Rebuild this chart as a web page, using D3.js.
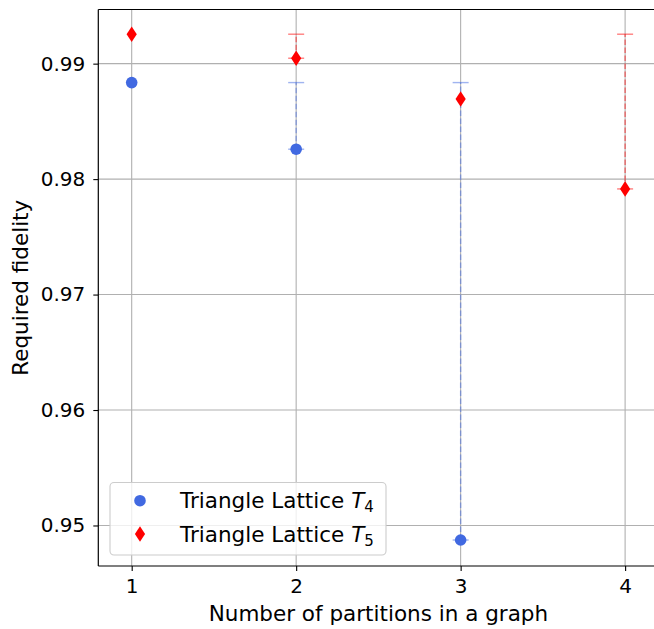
<!DOCTYPE html>
<html>
<head>
<meta charset="utf-8">
<script src="https://cdn.jsdelivr.net/npm/d3@7/dist/d3.min.js"></script>
<style>
html,body{margin:0;padding:0;background:#fff;}
svg{display:block;font-family:"DejaVu Sans",sans-serif;}
</style>
</head>
<body>
<svg id="chart" width="654" height="629"></svg>
<script>
const partitions = [1, 2, 3, 4];
const t4Partitions = [1, 2, 3];
const t4Values = [0.98836, 0.98259, 0.94874];
const t4Upper = [null, 0.98836, 0.98836];
const t5Partitions = [1, 2, 3, 4];
const t5Values = [0.99255, 0.99047, 0.98694, 0.97915];
const t5Upper = [null, 0.99255, null, 0.99255];
const yTicks = [0.95, 0.96, 0.97, 0.98, 0.99];
const seriesNames = ["Triangle Lattice ", "Triangle Lattice "];
const seriesSubs = ["4", "5"];

(function () {
const svg = d3.select("#chart");
const pLeft = 98.3, pRight = 658.5, pTop = 9.5, pBottom = 566;
const x = d3.scaleLinear().domain([0.797, 4.203]).range([pLeft, pRight]);
const y = d3.scaleLinear().domain([0.94649, 0.99469]).range([pBottom, pTop]);

const tickFont = 20, labelFont = 21.5;
// grid
const grid = svg.append("g");
grid.selectAll("line.v").data(partitions).enter().append("line")
  .attr("x1", d => x(d)).attr("x2", d => x(d)).attr("y1", pTop).attr("y2", pBottom)
  .attr("stroke", "#b0b0b0").attr("stroke-width", 1.1);
grid.selectAll("line.h").data(yTicks).enter().append("line")
  .attr("y1", d => y(d)).attr("y2", d => y(d)).attr("x1", pLeft).attr("x2", pRight)
  .attr("stroke", "#b0b0b0").attr("stroke-width", 1.1);

function drawMarker(g, cx, cy, color, shape) {
  if (shape === "circle") {
    g.append("circle").attr("cx", cx).attr("cy", cy).attr("r", 5.8).attr("fill", color);
  } else {
    g.append("path").attr("d", `M${cx},${cy-7.8} L${cx+5.1},${cy} L${cx},${cy+7.8} L${cx-5.1},${cy} Z`)
      .attr("fill", color);
  }
}
function drawSeries(ps, vals, ups, color, shape) {
  const g = svg.append("g");
  ps.forEach((p, i) => {
    if (ups[i] === null) return;
    const cx = x(p);
    g.append("line").attr("x1", cx).attr("x2", cx).attr("y1", y(vals[i])).attr("y2", y(ups[i]))
      .attr("stroke", color).attr("stroke-opacity", 0.5).attr("stroke-width", 1.4)
      .attr("stroke-dasharray", "5.5,2.5");
    [vals[i], ups[i]].forEach(v => {
      g.append("line").attr("x1", cx - 8).attr("x2", cx + 8).attr("y1", y(v)).attr("y2", y(v))
        .attr("stroke", color).attr("stroke-opacity", 0.5).attr("stroke-width", 1.4);
    });
  });
  ps.forEach((p, i) => {
    drawMarker(g, x(p), y(vals[i]), color, shape);
  });
}
drawSeries(t4Partitions, t4Values, t4Upper, "#4169e1", "circle");
drawSeries(t5Partitions, t5Values, t5Upper, "#ff0000", "diamond");

// spines
const spine = (x1, y1, x2, y2) => svg.append("line").attr("x1", x1).attr("y1", y1).attr("x2", x2).attr("y2", y2)
  .attr("stroke", "#000").attr("stroke-width", 1.2);
spine(pLeft, pTop, pLeft, pBottom);
spine(pLeft, pBottom, pRight, pBottom);
spine(pLeft, pTop, pRight, pTop);
spine(pRight, pTop, pRight, pBottom);

// axes
const xAxis = d3.axisBottom(x).tickValues(partitions).tickFormat(d3.format("d")).tickSize(5).tickPadding(8);
const gx = svg.append("g").attr("transform", `translate(0,${pBottom})`).call(xAxis);
const yAxis = d3.axisLeft(y).tickValues(yTicks).tickFormat(d3.format(".2f")).tickSize(5).tickPadding(8);
const gy = svg.append("g").attr("transform", `translate(${pLeft},0)`).call(yAxis);
[gx, gy].forEach(g => {
  g.select(".domain").remove();
  g.selectAll(".tick line").attr("stroke", "#000").attr("stroke-width", 1.1);
  g.selectAll(".tick text").attr("font-size", tickFont).attr("font-family", "DejaVu Sans").attr("fill", "#000");
});

svg.append("text").attr("x", (pLeft + pRight) / 2).attr("y", 621).attr("text-anchor", "middle")
  .attr("font-size", labelFont).attr("fill", "#000").text("Number of partitions in a graph");
svg.append("text").attr("transform", `translate(28,${(pTop + pBottom) / 2}) rotate(-90)`).attr("text-anchor", "middle")
  .attr("font-size", labelFont).attr("fill", "#000").text("Required fidelity");

// legend
const lg = svg.append("g");
lg.append("rect").attr("x", 110).attr("y", 482.5).attr("width", 276).attr("height", 72.5).attr("rx", 4)
  .attr("fill", "#fff").attr("fill-opacity", 0.8).attr("stroke", "#cccccc").attr("stroke-width", 1.1);
const legendColors = ["#4169e1", "#ff0000"];
const legendShapes = ["circle", "diamond"];
seriesNames.forEach((name, i) => {
  const cy = 500.7 + i * 33.3;
  drawMarker(lg, 140, cy, legendColors[i], legendShapes[i]);
  const t = lg.append("text").attr("x", 180).attr("y", cy + 7.5).attr("font-size", labelFont).attr("fill", "#000");
  t.append("tspan").text(name);
  t.append("tspan").attr("font-style", "italic").text("T");
  t.append("tspan").attr("font-size", 15).attr("dy", 4).text(seriesSubs[i]);
});
})();
</script>
</body>
</html>
